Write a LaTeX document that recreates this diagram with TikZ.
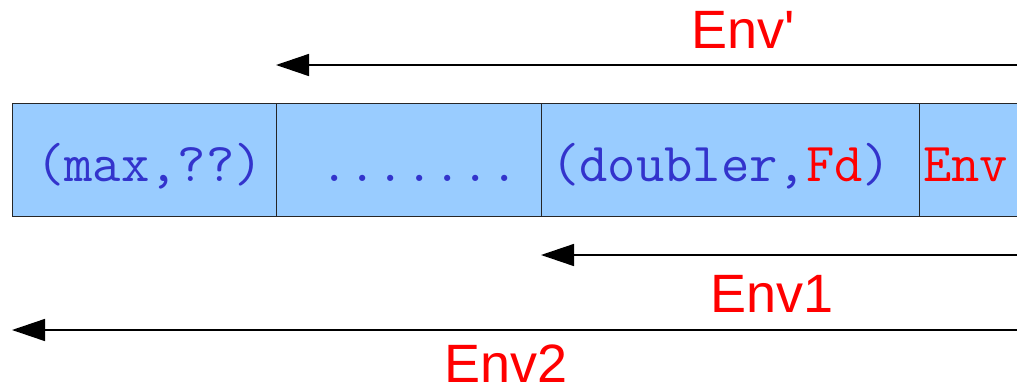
\documentclass[tikz,border=0pt]{standalone}
\usepackage{fontspec}
\usetikzlibrary{arrows.meta}
\newfontfamily\labfont{Liberation Sans}
\definecolor{cellblue}{HTML}{99CCFF}
\definecolor{codeblue}{HTML}{3333CC}
\definecolor{envred}{HTML}{FF0000}

\begin{document}
\begin{tikzpicture}[x=1pt,y=-1pt,
  cell/.style={draw=black!85, line width=1pt, fill=cellblue, minimum height=113pt,
    inner sep=0pt, anchor=north west},
  code/.style={font=\ttfamily\fontsize{55}{55}\selectfont, text=codeblue,
    anchor=base west, inner sep=0pt},
  envlabel/.style={font=\labfont\fontsize{54}{54}\selectfont, text=envred,
    anchor=base west, inner sep=0pt},
  flow/.style={line width=1.5pt, -{Triangle[length=33pt,width=22pt]}}]

  \useasboundingbox (0,0) rectangle (1017,389);
  \clip (0,0) rectangle (1017,389);

  % the environment as a row of bindings
  \node[cell, minimum width=264pt] (c1) at (12,103) {};
  \node[cell, minimum width=265pt] (c2) at (276,103) {};
  \node[cell, minimum width=378pt] (c3) at (541,103) {};
  \node[cell, minimum width=130pt] (c4) at (919,103) {};

  \node[code] (t1) at (36,181) {(max,??)};
  \node[code] (t2) at (320,181) {.......};
  \node[code] (t3) at (551,181) {(doubler,\textcolor{envred}{Fd})};
  \node[code, text=envred] (t4) at (923,181) {Env};

  % extensions of the environment
  \coordinate (s1) at (1017,65);
  \coordinate (s2) at (1017,255);
  \coordinate (s3) at (1017,330);
  \draw[flow] (s1) -- (c2.north west |- s1);
  \draw[flow] (s2) -- (c3.north west |- s2);
  \draw[flow] (s3) -- (c1.north west |- s3);

  \node[envlabel] (l1) at (691,48) {Env\char"27};
  \node[envlabel] (l2) at (710,312) {Env1};
  \node[envlabel] (l3) at (444,382) {Env2};
\end{tikzpicture}
\end{document}
